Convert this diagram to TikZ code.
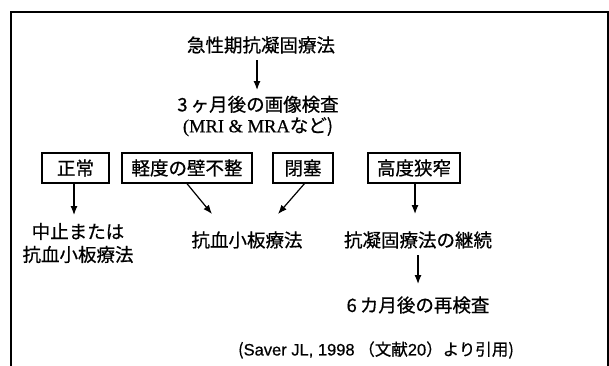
\documentclass[tikz,border=0pt]{standalone}
\usepackage{fontspec}
\setmainfont{Noto Sans CJK JP}[AutoFakeBold=0.6]
\newfontfamily\lat{Liberation Serif}[AutoFakeBold=0.6]
\newfontfamily\cit{Liberation Sans}[AutoFakeBold=0.6]
\usetikzlibrary{arrows.meta,calc}
\begin{document}
\begin{tikzpicture}[x=1pt,y=-1pt,
  txt/.style={inner sep=0pt,font=\fontsize{18.5}{23}\selectfont\bfseries},
  boxn/.style={draw,line width=1.3pt,minimum height=30pt,inner sep=0pt,font=\fontsize{18.5}{22}\selectfont\bfseries},
  arr/.style={line width=1.2pt,-{Latex[length=9pt,width=7pt]}}]
\useasboundingbox (0,0) rectangle (609,365);
\draw[line width=1.5pt] (11,370) -- (11,12) -- (608,12) -- (608,370);
\node[txt] (t1) at (261,45) {急性期抗凝固療法};
\node[txt,align=center] (t2) at (258,116) {3\,ヶ月後の画像検査\\[-2pt]{\lat (MRI \& MRA}など)};
\coordinate (t1b) at (257,60);
\coordinate (t2t) at (257,90);
\draw[arr] (t1b) -- (t2t);
\node[boxn,minimum width=67pt] (b1) at (75.5,168) {正常};
\node[boxn,minimum width=130pt] (b2) at (187,168) {軽度の壁不整};
\node[boxn,minimum width=60pt] (b3) at (303,168) {閉塞};
\node[boxn,minimum width=92pt] (b4) at (414,168) {高度狭窄};
\node[txt,align=center] (m1) at (78,243) {中止または\\抗血小板療法};
\node[txt] (m2) at (247,240) {抗血小板療法};
\node[txt] (m3) at (418,240) {抗凝固療法の継続};
\node[txt] (m4) at (418,305) {6\,カ月後の再検査};
\node[inner sep=0pt,font=\fontsize{16.5}{19}\selectfont\bfseries] (c) at (376,350) {({\cit Saver JL, 1998}\ （文献{\cit 20}）より引用)};
\coordinate (e1) at (74,215);
\coordinate (e2) at (212,214);
\coordinate (s3) at (305,183);
\coordinate (e3) at (278,214);
\coordinate (e4) at (415,214);
\draw[arr] (b1.south -| e1) -- (e1);
\draw[arr] (b2.south) -- (e2);
\draw[arr] (s3) -- (e3);
\draw[arr] (b4.south -| e4) -- (e4);
\coordinate (f1) at (418,255);
\coordinate (f2) at (418,284);
\draw[arr] (f1) -- (f2);
\end{tikzpicture}
\end{document}
